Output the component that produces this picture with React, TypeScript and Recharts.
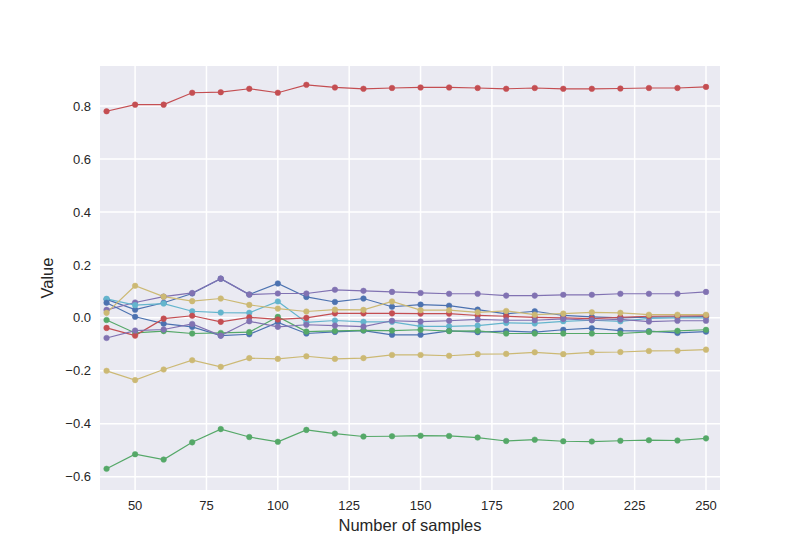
import React from "react";
import { LineChart, Line, XAxis, YAxis, CartesianGrid, Label } from "recharts";

const samples = [40, 50, 60, 70, 80, 90, 100, 110, 120, 130, 140, 150, 160, 170, 180, 190, 200, 210, 220, 230, 240, 250];

const blueUpper = [0.07, 0.031, 0.057, 0.092, 0.148, 0.088, 0.13, 0.079, 0.06, 0.073, 0.042, 0.05, 0.046, 0.031, 0.015, 0.025, 0.009, 0.004, 0.0, 0.003, 0.004, 0.005];
const greenBottom = [-0.57, -0.515, -0.535, -0.47, -0.42, -0.45, -0.468, -0.423, -0.437, -0.448, -0.447, -0.445, -0.446, -0.452, -0.465, -0.46, -0.466, -0.467, -0.464, -0.462, -0.463, -0.455];
const redTop = [0.78, 0.805, 0.805, 0.85, 0.852, 0.865, 0.85, 0.88, 0.87, 0.865, 0.868, 0.87, 0.87, 0.868, 0.865, 0.868, 0.865, 0.865, 0.866, 0.868, 0.868, 0.872];
const purpleUpper = [0.03, 0.058, 0.08, 0.094, 0.148, 0.088, 0.092, 0.092, 0.106, 0.102, 0.098, 0.094, 0.091, 0.091, 0.084, 0.084, 0.087, 0.087, 0.091, 0.091, 0.091, 0.098];
const yellowBottom = [-0.2, -0.235, -0.195, -0.16, -0.185, -0.152, -0.155, -0.145, -0.155, -0.152, -0.14, -0.14, -0.143, -0.137, -0.136, -0.13, -0.137, -0.13, -0.129, -0.125, -0.124, -0.12];
const cyanSeries = [0.072, 0.048, 0.054, 0.025, 0.02, 0.019, 0.062, -0.017, -0.01, -0.015, -0.015, -0.032, -0.032, -0.029, -0.019, -0.021, -0.013, -0.009, -0.013, -0.002, 0.0, 0.0];
const blueLower = [0.057, 0.004, -0.022, -0.034, -0.067, -0.062, -0.017, -0.059, -0.053, -0.048, -0.064, -0.064, -0.049, -0.054, -0.05, -0.054, -0.045, -0.039, -0.048, -0.05, -0.057, -0.052];
const greenUpper = [-0.008, -0.057, -0.05, -0.059, -0.057, -0.054, 0.004, -0.052, -0.049, -0.047, -0.048, -0.045, -0.05, -0.049, -0.059, -0.059, -0.059, -0.059, -0.059, -0.053, -0.049, -0.045];
const redLower = [-0.038, -0.067, -0.003, 0.008, -0.015, 0.002, -0.006, 0.0, 0.017, 0.017, 0.017, 0.016, 0.016, 0.009, 0.006, 0.002, 0.0, -0.003, 0.002, 0.006, 0.007, 0.008];
const purpleLower = [-0.076, -0.048, -0.044, -0.023, -0.067, -0.013, -0.034, -0.026, -0.029, -0.033, -0.011, -0.014, -0.011, -0.006, -0.009, -0.009, -0.004, -0.009, -0.006, -0.014, -0.011, -0.011];
const yellowUpper = [0.019, 0.121, 0.08, 0.063, 0.073, 0.049, 0.035, 0.024, 0.031, 0.03, 0.062, 0.029, 0.029, 0.021, 0.026, 0.012, 0.016, 0.021, 0.019, 0.012, 0.012, 0.012];

const xTicks = [50, 75, 100, 125, 150, 175, 200, 225, 250];
const yTicks = [-0.6, -0.4, -0.2, 0.0, 0.2, 0.4, 0.6, 0.8];

const palette = ["#4C72B0", "#55A868", "#C44E52", "#8172B2", "#CCB974", "#64B5CD"];

const seriesList = [
  { key: "s1", values: blueUpper },
  { key: "s2", values: greenBottom },
  { key: "s3", values: redTop },
  { key: "s4", values: purpleUpper },
  { key: "s5", values: yellowBottom },
  { key: "s6", values: cyanSeries },
  { key: "s7", values: blueLower },
  { key: "s8", values: greenUpper },
  { key: "s9", values: redLower },
  { key: "s10", values: purpleLower },
  { key: "s11", values: yellowUpper },
];

const data = samples.map((x, i) => {
  const row: Record<string, number> = { x };
  seriesList.forEach((s) => {
    row[s.key] = s.values[i];
  });
  return row;
});

const fmtY = (v: number) => {
  const s = Math.abs(v).toFixed(1);
  return v < -1e-9 ? "\u2212" + s : s;
};

const font = "'Liberation Sans', Arial, sans-serif";

export default function App() {
  return (
    <div style={{ position: "absolute", left: 0, top: 0, width: 800, height: 550, background: "#fff" }}>
      <LineChart width={800} height={550} data={data} margin={{ top: 66, right: 80, bottom: 0, left: 0 }}>
        <CartesianGrid fill="#EAEAF2" stroke="#ffffff" strokeWidth={1.5} horizontalValues={yTicks} verticalValues={xTicks} />
        <XAxis
          dataKey="x"
          type="number"
          domain={[37.7, 254.9]}
          ticks={xTicks}
          allowDataOverflow
          axisLine={false}
          tickLine={false}
          tickSize={0}
          tickMargin={11}
          height={60}
          tick={{ fill: "#262626", fontSize: 13, fontFamily: font }}
        >
          <Label value="Number of samples" position="insideBottom" offset={19} style={{ fill: "#262626", fontSize: 16.5, fontFamily: font }} />
        </XAxis>
        <YAxis
          type="number"
          domain={[-0.65, 0.951]}
          ticks={yTicks}
          allowDataOverflow
          axisLine={false}
          tickLine={false}
          tickSize={0}
          tickMargin={9}
          width={100}
          tickFormatter={fmtY}
          tick={{ fill: "#262626", fontSize: 13, fontFamily: font }}
        >
          <Label value="Value" angle={-90} position="insideLeft" offset={47} style={{ fill: "#262626", fontSize: 16.5, fontFamily: font, textAnchor: "middle" }} />
        </YAxis>
        {seriesList.map((s, i) => {
          const c = palette[i % palette.length];
          return (
            <Line
              key={s.key}
              dataKey={s.key}
              stroke={c}
              strokeWidth={1.2}
              dot={{ r: 2.8, fill: c, stroke: c, strokeWidth: 0.5, fillOpacity: 1 }}
              activeDot={false}
              isAnimationActive={false}
            />
          );
        })}
      </LineChart>
    </div>
  );
}
